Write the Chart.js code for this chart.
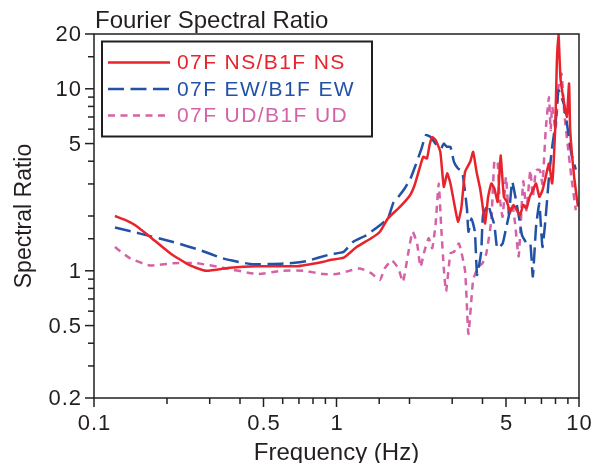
<!DOCTYPE html>
<html>
<head>
<meta charset="utf-8">
<script src="https://cdn.jsdelivr.net/npm/chart.js@4.4.1/dist/chart.umd.min.js"></script>
<style>
html,body{margin:0;padding:0;background:#fff;}
#wrap{width:595px;height:463px;}
</style>
</head>
<body>
<div id="wrap"><canvas id="c" width="595" height="463"></canvas></div>
<script>
// ---- Data ----
const chartTitle = "Fourier Spectral Ratio";
const xTitle = "Frequency (Hz)";
const yTitle = "Spectral Ratio";
const xLabelTicks = [0.1, 0.5, 1, 5, 10];
const yLabelTicks = [0.2, 0.5, 1, 5, 10, 20];
const seriesLabels = ["07F NS/B1F NS", "07F EW/B1F EW", "07F UD/B1F UD"];

const nsFreq = [0.122,0.135,0.148,0.17,0.206,0.249,0.29,0.364,0.47,0.69,0.88,0.94,1.07,1.21,1.39,1.51,1.63,1.83,2.01,2.1,2.2,2.28,2.36,2.42,2.48,2.57,2.68,2.77,2.86,2.95,3.05,3.17,3.27,3.39,3.56,3.66,3.78,3.91,4.0,4.1,4.22,4.35,4.48,4.62,4.75,4.9,5.05,5.2,5.37,5.54,5.71,5.89,6.07,6.26,6.45,6.65,6.86,7.07,7.29,7.52,7.75,7.99,8.1,8.23,8.4,8.9,9.1,9.2,9.55,9.9];
const nsRatio = [2.0,1.9,1.78,1.54,1.25,1.07,1.0,1.04,1.06,1.06,1.12,1.145,1.18,1.35,1.51,1.64,1.94,2.25,2.6,2.96,3.65,4.23,4.14,4.91,5.44,5.2,4.5,2.89,3.43,3.02,2.39,1.86,2.2,3.5,3.97,4.5,3.5,2.83,2.3,1.82,2.55,3.02,2.83,2.39,4.3,2.55,2.39,2.11,2.3,2.15,2.02,2.3,2.2,2.55,2.77,3.02,2.55,2.77,3.28,3.89,3.02,6.44,13.8,20,11.2,7.0,10.7,5.9,3.28,2.25];

const ewFreq = [0.122,0.155,0.212,0.273,0.34,0.44,0.55,0.64,0.75,0.94,1.07,1.17,1.33,1.51,1.63,1.72,1.8,1.91,2.02,2.12,2.23,2.34,2.44,2.56,2.7,2.77,2.85,2.95,3.05,3.17,3.3,3.45,3.5,3.6,3.72,3.8,3.95,4.02,4.22,4.35,4.48,4.6,4.84,5.0,5.14,5.3,5.45,5.64,5.82,6.1,6.3,6.45,6.65,6.86,7.07,7.29,7.52,7.75,8.0,8.23,8.47,8.7,9.0,9.3,9.7];
const ewRatio = [1.73,1.6,1.44,1.3,1.17,1.09,1.09,1.1,1.13,1.23,1.27,1.44,1.57,1.78,1.94,2.39,2.55,2.83,3.22,3.81,4.6,5.57,5.44,5.0,4.7,5.0,4.8,4.8,3.97,3.65,3.5,2.2,1.64,1.94,1.64,0.95,1.27,2.02,2.3,2.02,1.78,1.33,1.41,1.71,2.02,3.09,2.6,2.02,1.57,1.41,1.41,0.93,1.74,2.34,1.35,1.98,3.28,4.8,6.44,9.8,9.0,8.0,5.9,4.4,3.6];

const udFreq = [0.122,0.141,0.17,0.212,0.265,0.34,0.47,0.6,0.73,0.88,1.0,1.1,1.25,1.39,1.51,1.58,1.69,1.8,1.88,1.98,2.06,2.15,2.22,2.3,2.4,2.48,2.56,2.64,2.7,2.77,2.83,2.95,3.05,3.2,3.39,3.5,3.66,3.84,4.0,4.15,4.35,4.48,4.62,4.69,4.84,5.0,5.14,5.3,5.45,5.64,5.89,6.07,6.3,6.45,6.65,6.9,7.07,7.29,7.52,7.64,7.75,8.0,8.23,8.47,8.7,9.0,9.3,9.7];
const udRatio = [1.35,1.17,1.07,1.1,1.1,1.04,0.96,1.0,1.0,0.96,0.96,0.99,1.03,0.97,0.89,1.03,1.14,1.03,0.87,1.27,1.64,1.41,1.05,1.27,1.51,1.33,1.78,3.02,1.78,1.03,0.77,1.25,1.27,1.41,1.0,0.45,0.89,1.05,1.1,1.25,1.9,4.06,3.89,2.66,1.98,3.28,1.98,2.34,1.82,1.2,3.1,2.15,3.57,2.55,3.57,3.57,3.0,5.93,9.0,5.93,8.0,5.93,10.2,12.1,7.3,4.8,3.28,2.15];

// ---- Styles ----
const FONT = "'Liberation Sans', Arial, Helvetica, sans-serif";
const INK = "#231f20";
const RED = "#e8232c";
const BLUE = "#2152a6";
const PINK = "#d562a6";

function pts(fs, vs){ return fs.map((f,i)=>({x:f, y:vs[i]})); }
function isIn(list, v){ return list.some(t=>Math.abs(t-v)<1e-9); }

const framePlugin = {
  id: 'frameTicks',
  afterDraw(chart){
    const ctx = chart.ctx, a = chart.chartArea;
    const xs = chart.scales.x, ys = chart.scales.y;
    ctx.save();
    ctx.strokeStyle = INK;
    ctx.lineWidth = 1.5;
    ctx.strokeRect(a.left, a.top, a.right - a.left, a.bottom - a.top);
    // tick marks
    xs.ticks.forEach(t=>{
      const px = xs.getPixelForValue(t.value);
      const major = isIn(xLabelTicks, t.value);
      ctx.beginPath(); ctx.moveTo(px, a.bottom); ctx.lineTo(px, a.bottom + (major?9:6)); ctx.stroke();
    });
    ys.ticks.forEach(t=>{
      const py = ys.getPixelForValue(t.value);
      const major = isIn(yLabelTicks, t.value);
      ctx.beginPath(); ctx.moveTo(a.left, py); ctx.lineTo(a.left - (major?9:6), py); ctx.stroke();
    });
    // tick labels
    ctx.fillStyle = INK;
    ctx.font = "22px " + FONT;
    ctx.letterSpacing = "1px";
    ctx.textBaseline = 'middle';
    ctx.textAlign = 'center';
    xLabelTicks.forEach(v=>{
      ctx.fillText(String(v), xs.getPixelForValue(v) + 0.5, a.bottom + 26);
    });
    ctx.textAlign = 'right';
    yLabelTicks.forEach(v=>{
      ctx.fillText(String(v), a.left - 12, ys.getPixelForValue(v) + 1);
    });
    ctx.letterSpacing = "0px";
    // axis titles
    ctx.font = "24px " + FONT;
    ctx.textAlign = 'center';
    ctx.textBaseline = 'alphabetic';
    ctx.fillText(xTitle, (a.left + a.right)/2, 460);
    ctx.save();
    ctx.translate(31, (a.top + a.bottom)/2);
    ctx.rotate(-Math.PI/2);
    ctx.font = "23px " + FONT;
    ctx.fillText(yTitle, 0, 0);
    ctx.restore();
    // chart title
    ctx.font = "24px " + FONT;
    ctx.textAlign = 'left';
    ctx.fillText(chartTitle, 95, 28);
    // legend
    ctx.lineWidth = 2;
    ctx.strokeStyle = INK;
    ctx.strokeRect(102, 41.5, 270, 95);
    const rows = [62.5, 89, 115.5];
    chart.data.datasets.forEach((ds,i)=>{
      ctx.save();
      ctx.strokeStyle = ds.borderColor;
      ctx.lineWidth = ds.borderWidth;
      ctx.setLineDash(ds.borderDash || []);
      ctx.beginPath(); ctx.moveTo(108, rows[i]); ctx.lineTo(170, rows[i]); ctx.stroke();
      ctx.restore();
      ctx.fillStyle = ds.borderColor;
      ctx.font = "21px " + FONT;
      ctx.letterSpacing = "1.4px";
      ctx.textAlign = 'left';
      ctx.textBaseline = 'middle';
      ctx.fillText(ds.label, 177, rows[i] + 1);
      ctx.letterSpacing = "0px";
    });
    ctx.restore();
  }
};

new Chart(document.getElementById('c'), {
  type: 'line',
  data: {
    datasets: [
      {label: seriesLabels[0], data: pts(nsFreq, nsRatio), borderColor: RED, borderWidth: 2.5, borderDash: [], pointRadius: 0, tension: 0.15, fill: false},
      {label: seriesLabels[1], data: pts(ewFreq, ewRatio), borderColor: BLUE, borderWidth: 2.5, borderDash: [16,6.5], pointRadius: 0, tension: 0.15, fill: false},
      {label: seriesLabels[2], data: pts(udFreq, udRatio), borderColor: PINK, borderWidth: 2.5, borderDash: [7,5.5], pointRadius: 0, tension: 0.15, fill: false}
    ]
  },
  options: {
    responsive: false,
    animation: false,
    devicePixelRatio: 1,
    layout: {padding: {top: 34, right: 16, bottom: 0, left: 0}},
    plugins: {legend: {display: false}, tooltip: {enabled: false}, title: {display: false}},
    scales: {
      x: {
        type: 'logarithmic', min: 0.1, max: 10,
        grid: {display: false, drawTicks: false, tickLength: 0},
        border: {display: false},
        ticks: {display: false, autoSkip: false},
        title: {display: false},
        afterFit: (s)=>{ s.height = 65; s.paddingLeft = 0; s.paddingRight = 0; }
      },
      y: {
        type: 'logarithmic', min: 0.2, max: 20,
        grid: {display: false, drawTicks: false, tickLength: 0},
        border: {display: false},
        ticks: {display: false, autoSkip: false},
        title: {display: false},
        afterFit: (s)=>{ s.width = 94; s.paddingTop = 0; s.paddingBottom = 0; }
      }
    }
  },
  plugins: [framePlugin]
});
</script>
</body>
</html>
